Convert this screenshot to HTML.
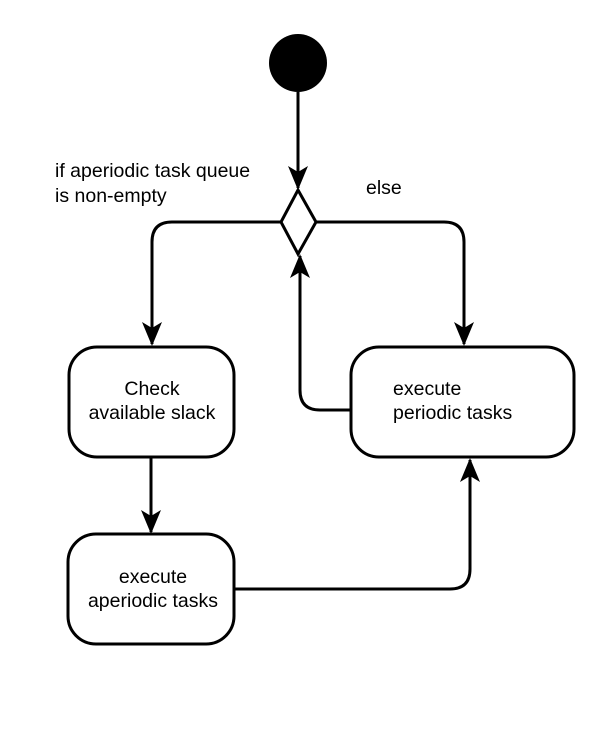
<!DOCTYPE html>
<html><head><style>body{margin:0;background:#fff}svg{display:block}</style></head><body>
<svg width="616" height="729" viewBox="0 0 616 729" xmlns="http://www.w3.org/2000/svg" font-family="Liberation Sans, Arial, sans-serif" font-size="19.5">
<defs><marker id="a" markerWidth="24" markerHeight="20" refX="22" refY="10" orient="auto" markerUnits="userSpaceOnUse">
<path d="M0,0 L24,10 L0,20 L6,10 Z" fill="#000"/></marker></defs>
<g fill="none" stroke="#000" stroke-width="3">
<circle cx="298" cy="63" r="29" fill="#000" stroke="none"/>
<path d="M298 92 V188" marker-end="url(#a)"/>
<path d="M298 190 L316 222 L298 254 L281 222 Z" fill="#fff"/>
<path d="M281 222 H172 Q152 222 152 242 V344" marker-end="url(#a)"/>
<path d="M316 222 H444 Q464 222 464 242 V344" marker-end="url(#a)"/>
<path d="M351 410 H320 Q300 410 300 390 V256" marker-end="url(#a)"/>
<path d="M151 457 V532" marker-end="url(#a)"/>
<path d="M234 589 H450 Q470 589 470 569 V460" marker-end="url(#a)"/>
<rect x="69" y="347" width="165" height="110" rx="28" fill="#fff"/>
<rect x="351" y="347" width="223" height="110" rx="28" fill="#fff"/>
<rect x="68" y="534" width="166" height="110" rx="28" fill="#fff"/>
</g>
<g fill="#000">
<text x="55" y="177">if aperiodic task queue</text>
<text x="55" y="202">is non-empty</text>
<text x="366" y="194">else</text>
<text x="393" y="395">execute</text><text x="393" y="419">periodic tasks</text>
<g text-anchor="middle">
<text x="152" y="395">Check</text><text x="152" y="419">available slack</text>
<text x="153" y="583">execute</text><text x="153" y="607">aperiodic tasks</text>
</g></g>
</svg>
</body></html>
